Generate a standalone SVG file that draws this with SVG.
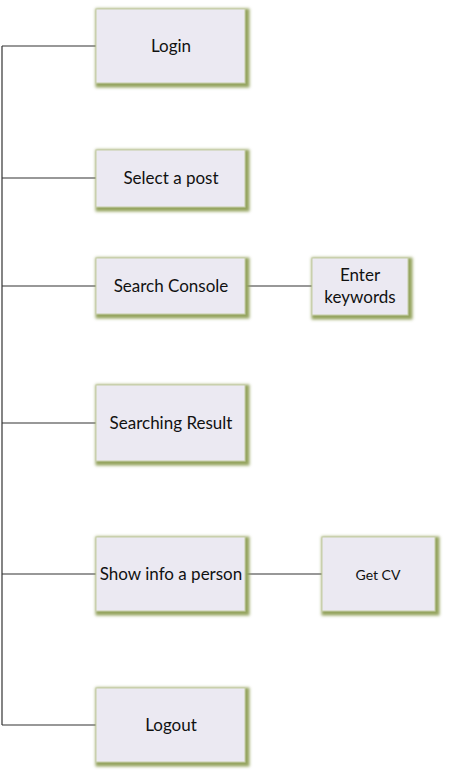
<svg xmlns="http://www.w3.org/2000/svg" width="449" height="778" viewBox="0 0 449 778">
<defs>
<filter id="glow" x="-20%" y="-20%" width="140%" height="140%">
<feMorphology in="SourceAlpha" operator="dilate" radius="1.5" result="d"/>
<feGaussianBlur in="d" stdDeviation="1.8" result="b"/>
<feOffset in="b" dx="1.5" dy="1.5" result="o"/>
<feFlood flood-color="#94a35e"/>
<feComposite in2="o" operator="in"/>
<feMerge><feMergeNode/><feMergeNode in="SourceGraphic"/></feMerge>
</filter>
</defs>
<style>
.box{fill:#ebe9f2;stroke:#c5cda5;stroke-width:1;filter:url(#glow)}
.lbl{font-family:Lato,"Liberation Sans",sans-serif;font-size:17px;fill:#111;text-anchor:middle;dominant-baseline:central}
.sm{font-size:14px}
.con{stroke:#333;stroke-width:1.2;fill:none}
</style>
<rect width="449" height="778" fill="#fff"/>
<g id="connectors">
<path class="con" d="M2 46V725"/>
<path class="con" d="M2 46H96M2 178H96M2 286H96M2 423H96M2 574H96M2 725H96"/>
<path class="con" d="M245 286H312M245 574H322"/>
</g>
<g id="login"><rect class="box" x="96" y="9" width="149" height="74"/><text class="lbl" x="171" y="45.5">Login</text></g>
<g id="select"><rect class="box" x="96" y="150" width="149" height="57"/><text class="lbl" x="171" y="177.5">Select a post</text></g>
<g id="search"><rect class="box" x="96" y="258" width="149" height="56"/><text class="lbl" x="171" y="285.5">Search Console</text></g>
<g id="enter"><rect class="box" x="312" y="258" width="96" height="57"/><text class="lbl" x="360" y="274.5">Enter</text><text class="lbl" x="360" y="296.5">keywords</text></g>
<g id="result"><rect class="box" x="96" y="385" width="149" height="76"/><text class="lbl" x="171" y="422.5">Searching Result</text></g>
<g id="show"><rect class="box" x="96" y="537" width="149" height="74"/><text class="lbl" x="171" y="573.5">Show info a person</text></g>
<g id="getcv"><rect class="box" x="322" y="537" width="113" height="74"/><text class="lbl sm" x="378" y="574.5">Get CV</text></g>
<g id="logout"><rect class="box" x="96" y="688" width="149" height="74"/><text class="lbl" x="171" y="724.5">Logout</text></g>
</svg>
